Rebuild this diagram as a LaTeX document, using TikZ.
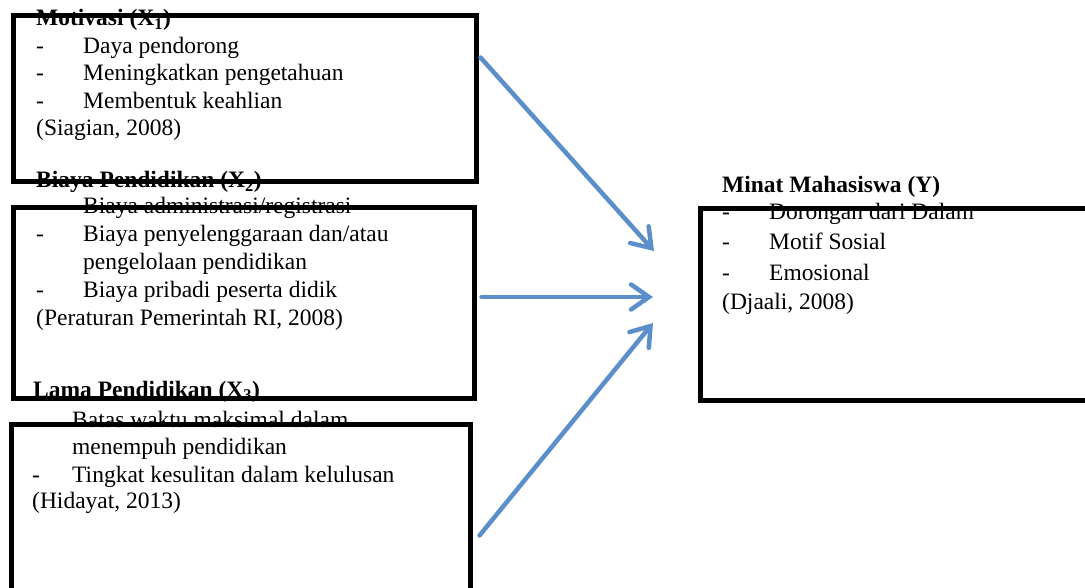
\documentclass[tikz,border=0pt]{standalone}
\usepackage{fontspec}
\setmainfont{Liberation Serif}
\usetikzlibrary{arrows.meta}
\definecolor{arrblue}{RGB}{91,143,201}
\tikzset{
  txt/.style={anchor=base west, inner sep=0pt, font=\fontsize{23.5}{28}\selectfont},
  head/.style={txt, font=\fontsize{23.5}{28}\selectfont\bfseries},
  frame/.style={draw=black, line width=5pt, inner sep=0pt},
  arr/.style={draw=arrblue, line width=4.5pt, line cap=round,
    -{Straight Barb[length=18pt,width=25pt,line cap=round]}}
}
\begin{document}
\begin{tikzpicture}[x=1pt,y=-1pt]
\useasboundingbox (0,0) rectangle (1085,588);
% Box 1 text
\node[head] (h1) at (36,26) {Motivasi (X\textsubscript{1})};
\node[txt] (d11) at (36,54) {-};
\node[txt] (t11) at (83,54) {Daya pendorong};
\node[txt] (d12) at (36,81) {-};
\node[txt] (t12) at (83,81) {Meningkatkan pengetahuan};
\node[txt] (d13) at (36,109) {-};
\node[txt] (t13) at (83,109) {Membentuk keahlian};
\node[txt] (r1) at (36,136) {(Siagian, 2008)};
% Box 2 text
\node[head] (h2) at (36,188) {Biaya Pendidikan (X\textsubscript{2})};
\node[txt] (d21) at (36,214) {-};
\node[txt] (t21) at (83,214) {Biaya administrasi/registrasi};
\node[txt] (d22) at (36,242) {-};
\node[txt] (t22) at (83,242) {Biaya penyelenggaraan dan/atau};
\node[txt] (t22b) at (83,270) {pengelolaan pendidikan};
\node[txt] (d23) at (36,298) {-};
\node[txt] (t23) at (83,298) {Biaya pribadi peserta didik};
\node[txt] (r2) at (36,325) {(Peraturan Pemerintah RI, 2008)};
% Box 3 text
\node[head] (h3) at (33,397) {Lama Pendidikan (X\textsubscript{3})};
\node[txt] (t31) at (72,427) {Batas waktu maksimal dalam};
\node[txt] (t31b) at (72,454) {menempuh pendidikan};
\node[txt] (d32) at (32,482) {-};
\node[txt] (t32) at (72,482) {Tingkat kesulitan dalam kelulusan};
\node[txt] (r3) at (32,508) {(Hidayat, 2013)};
% Right box text
\node[head] (hy) at (722,193) {Minat Mahasiswa (Y)};
\node[txt] (dy1) at (722,220) {-};
\node[txt] (ty1) at (769,220) {Dorongan dari Dalam};
\node[txt] (dy2) at (722,250) {-};
\node[txt] (ty2) at (769,250) {Motif Sosial};
\node[txt] (dy3) at (722,280) {-};
\node[txt] (ty3) at (769,280) {Emosional};
\node[txt] (ry) at (722,309) {(Djaali, 2008)};
% Frames
\node[frame, minimum width=463pt, minimum height=166pt] (b1) at (244.5,99) {};
\node[frame, minimum width=461pt, minimum height=190pt] (b2) at (243.5,303) {};
\node[frame, minimum width=459pt, minimum height=200pt] (b3) at (240.5,524) {};
\node[frame, minimum width=420pt, minimum height=191pt] (by) at (910,304.5) {};
% Arrow targets
\coordinate (e1) at (654,251);
\coordinate (e2) at (653,297);
\coordinate (e3) at (653,323);
\draw[arr] ([xshift=2pt,yshift=-44pt]b1.north east) -- (e1);
\draw[arr] ([xshift=5pt,yshift=6pt]b2.east) -- (e2);
\draw[arr] ([xshift=7pt,yshift=-114pt]b3.north east) -- (e3);
\end{tikzpicture}
\end{document}
